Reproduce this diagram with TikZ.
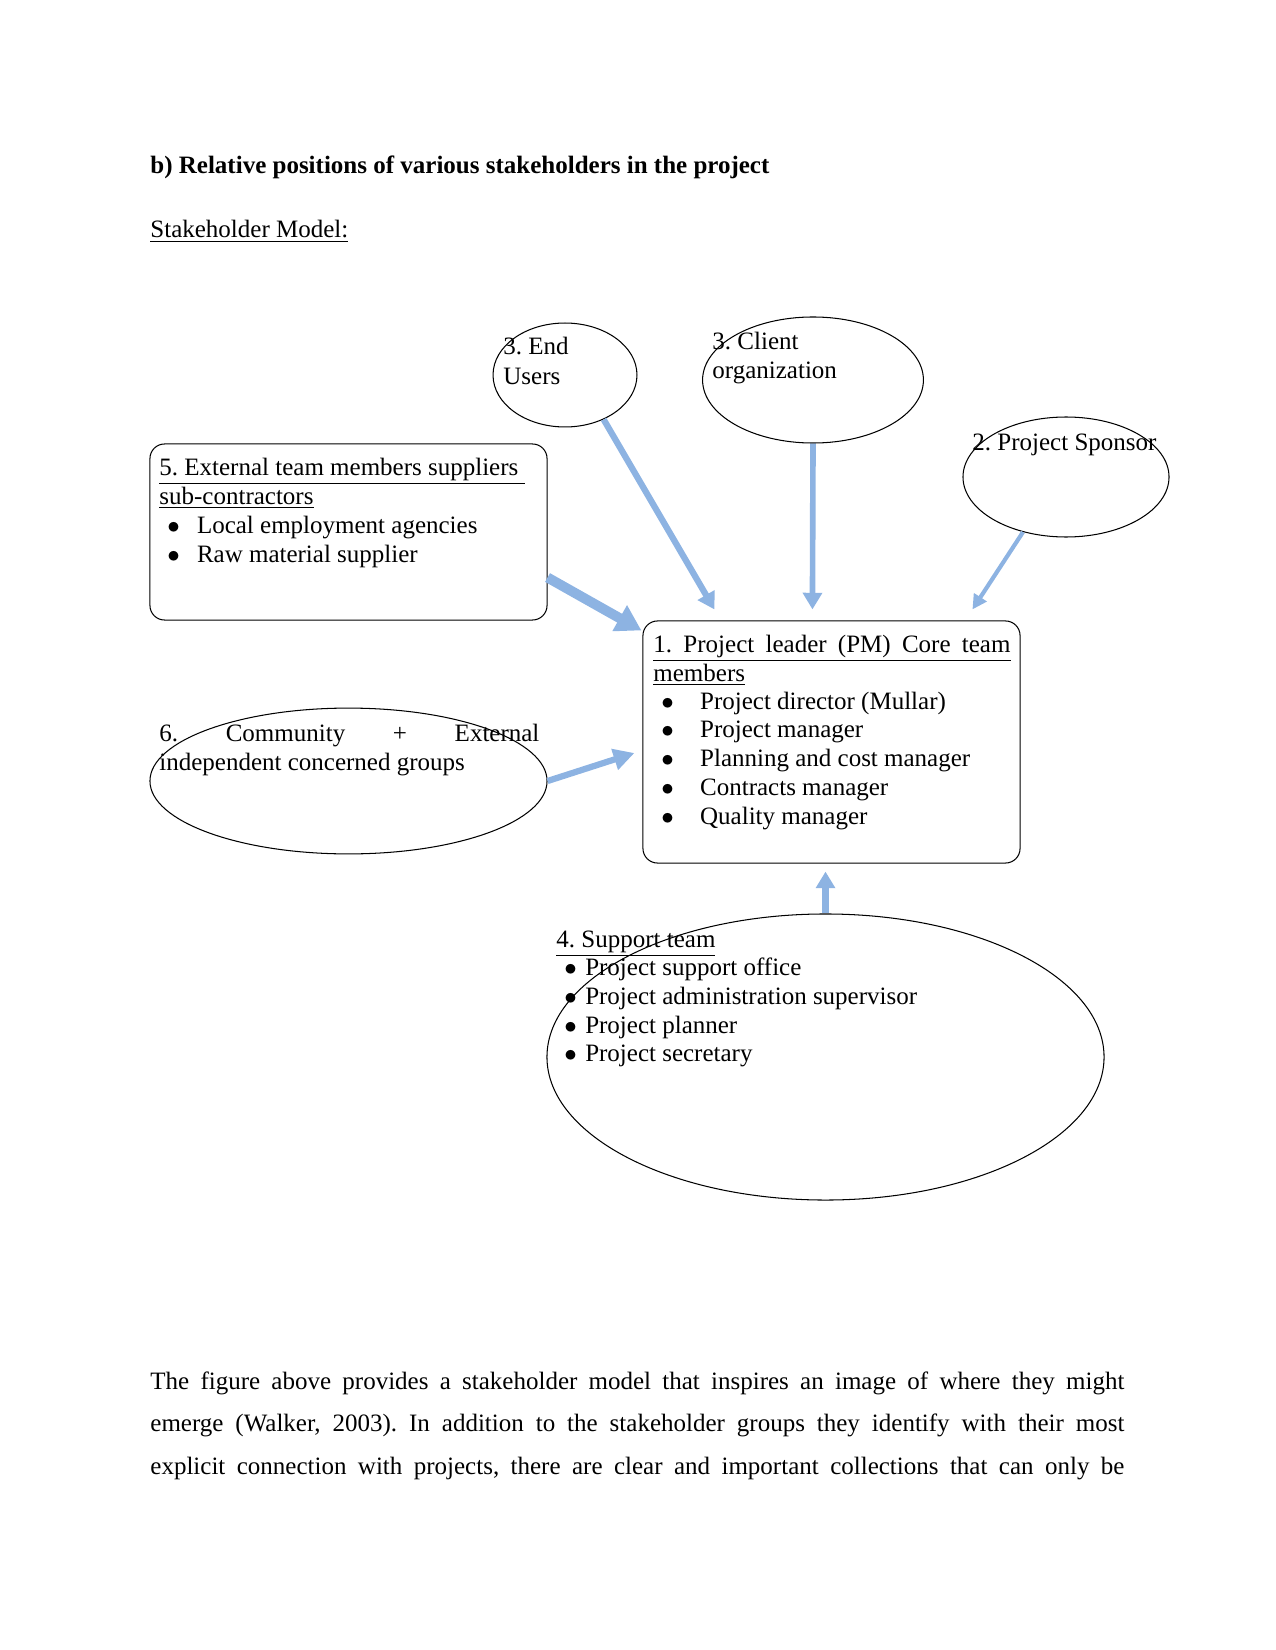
\documentclass[tikz,border=0pt]{standalone}
\usepackage{fontspec}
\setmainfont{Liberation Serif}
\usepackage{tikz}
\usetikzlibrary{
  arrows.meta,
  positioning,
  shapes.geometric,
  calc,
}
\definecolor{linkblue}{RGB}{141,179,226}
\newcommand{\bul}[2]{\makebox[#1][l]{$\bullet$}#2}
\frenchspacing

\begin{document}
\begin{tikzpicture}[
  x=0.48pt, y=-0.48pt,
  font=\fontsize{12pt}{14pt}\selectfont\frenchspacing,
  txt/.style={anchor=base west, inner sep=0pt},
  oval/.style={draw, ellipse, line width=0.5pt, inner sep=0pt},
  panel/.style={draw, rounded corners=7pt, line width=0.5pt, inner sep=0pt},
  link/.style={draw=linkblue, line width=3pt, -{Triangle[width=9pt,length=8pt]}},
]
  \useasboundingbox (0,0) rectangle (1275,1650);

  % Headings
  \node[txt, font=\fontsize{12pt}{14pt}\selectfont\bfseries] (title) at (150,174)
    {b) Relative positions of various stakeholders in the project};
  \node[txt] (model) at (150,238) {\underline{Stakeholder Model:}};

  % Stakeholder shapes
  \node[oval, minimum width=69.1pt, minimum height=49.9pt] (eu) at (565,375) {};
  \node[oval, minimum width=106pt, minimum height=60.5pt] (cl) at (813,380) {};
  \node[oval, minimum width=98.9pt, minimum height=57.6pt] (sp) at (1066,477) {};
  \node[panel, minimum width=190.6pt, minimum height=84.5pt] (ext) at (348.5,532) {};
  \node[panel, minimum width=181pt, minimum height=116.2pt] (core) at (831.5,742) {};
  \node[oval, minimum width=190.6pt, minimum height=70pt] (comm) at (348.5,781) {};
  \node[oval, minimum width=267.4pt, minimum height=137.3pt] (supp) at (825.5,1057) {};

  % Labels of the ovals
  \node[txt] (eu1) at (503,355) {3. End};
  \node[txt] (eu2) at (503,385) {Users};
  \node[txt] (cl1) at (712,350) {3. Client};
  \node[txt] (cl2) at (712,379) {organization};
  \node[txt] (sp1) at (972,450) {2. Project Sponsor};

  % External team box
  \node[txt] (ext1) at (159,475) {\underline{5. External team members suppliers\ }};
  \node[txt] (ext2) at (159,504) {\underline{sub-contractors}};
  \node[txt] (ext3) at (167,533) {\bul{14.2pt}{Local employment agencies}};
  \node[txt] (ext4) at (167,562) {\bul{14.2pt}{Raw material supplier}};

  % Core team box
  \node[txt] (core1) at (653,652) {\underline{\makebox[171.4pt][s]{1. Project leader (PM) Core team}}};
  \node[txt] (core2) at (653,681) {\underline{members}};
  \node[txt] (core3) at (661,709) {\bul{18.6pt}{Project director (Mullar)}};
  \node[txt] (core4) at (661,737) {\bul{18.6pt}{Project manager}};
  \node[txt] (core5) at (661,766) {\bul{18.6pt}{Planning and cost manager}};
  \node[txt] (core6) at (661,795) {\bul{18.6pt}{Contracts manager}};
  \node[txt] (core7) at (661,824) {\bul{18.6pt}{Quality manager}};

  % Community oval
  \node[txt] (comm1) at (159,741) {\makebox[182.4pt][s]{6. Community + External}};
  \node[txt] (comm2) at (159,770) {independent concerned groups};

  % Support team oval
  \node[txt] (supp1) at (556,947) {\underline{4. Support team}};
  \node[txt] (supp2) at (564,975) {\bul{10pt}{Project support office}};
  \node[txt] (supp3) at (564,1004) {\bul{10pt}{Project administration supervisor}};
  \node[txt] (supp4) at (564,1033) {\bul{10pt}{Project planner}};
  \node[txt] (supp5) at (564,1061) {\bul{10pt}{Project secretary}};

  % Arrow ends
  \coordinate (extout) at ($(ext.south east)+(0,-43)$);
  \coordinate (inext)  at ($(core.north west)+(-1,10)$);
  \coordinate (ineu)   at ($(core.north west)+(72,-11)$);
  \coordinate (incl)   at ($(core.north west)+(170,-11)$);
  \coordinate (insp)   at ($(core.north west)+(330,-11)$);
  \coordinate (incomm) at ($(core.west)+(-8,11)$);
  \coordinate (insupp) at ($(core.south)+(-6,8)$);

  % Arrows into the core team
  \draw[link, line width=4.8pt, -{Triangle[width=13.5pt,length=12pt]}] (extout) -- (inext);
  \draw[link] (eu.-49) -- (ineu);
  \draw[link, line width=2.7pt] (cl.south) -- (incl);
  \draw[link, line width=2pt, -{Triangle[width=7pt,length=7pt]}] (sp.-128) -- (insp);
  \draw[link, line width=3pt, -{Triangle[width=10pt,length=10pt]}] (comm.east) -- (incomm);
  \draw[link] (supp.north) -- (insupp);

  % Body text
  \node[txt] (par1) at (150,1389)
    {\makebox[467.5pt][s]{The figure above provides a stakeholder model that inspires an image of where they might}};
  \node[txt] (par2) at (150,1431)
    {\makebox[467.5pt][s]{emerge (Walker, 2003). In addition to the stakeholder groups they identify with their most}};
  \node[txt] (par3) at (150,1474)
    {\makebox[467.5pt][s]{explicit connection with projects, there are clear and important collections that can only be}};
\end{tikzpicture}
\end{document}
